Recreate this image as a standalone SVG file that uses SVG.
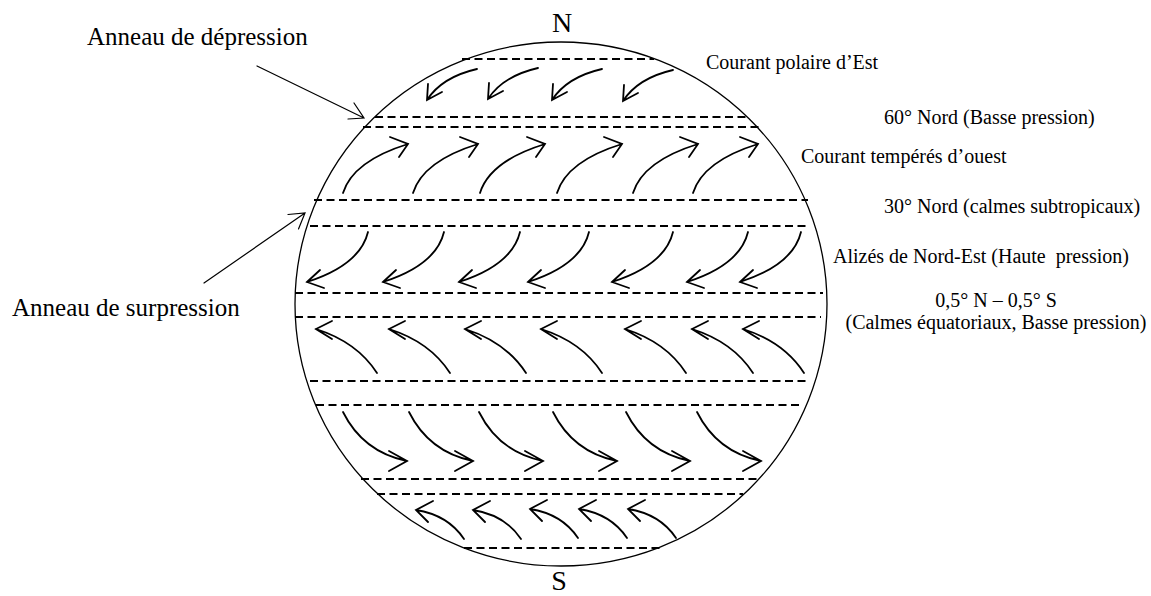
<svg xmlns="http://www.w3.org/2000/svg" xmlns:xlink="http://www.w3.org/1999/xlink" width="1151" height="596" viewBox="0 0 1151 596">
<style>
text{font-family:"Liberation Serif","Times New Roman",serif;fill:#000}
.lbl{font-size:20px}
.big{font-size:25px}
.pole{font-size:28px}
.dash{stroke:#000;stroke-width:1.8;stroke-dasharray:8 4.5;fill:none}
.arr{stroke:#000;stroke-width:1.8;fill:none;stroke-linecap:round;stroke-linejoin:miter}
.thin{stroke:#000;stroke-width:1.2;fill:none;stroke-linecap:round}
</style>
<defs>
<path id="b1" class="arr" d="M0 0 Q-35 8 -50 31 M-49 15 L-50 31 L-35 23"/>
<path id="b2" class="arr" d="M0 0 Q10 -32 65 -49 M47 -56 L65 -49 L56 -36"/>
<path id="b3" class="arr" d="M0 0 Q-8 33 -61 50 M-48 38 L-61 50 L-44 56"/>
<path id="b4" class="arr" d="M0 0 Q-20 -31 -61 -44 M-45 -52 L-61 -44 L-45 -34"/>
<path id="b5" class="arr" d="M0 0 Q20 40 64 49 M46 39 L64 49 L46 59"/>
<path id="b6" class="arr" d="M0 0 Q-16 -24 -48 -29 M-31 -38 L-48 -29 L-36 -17"/>
</defs>
<rect width="1151" height="596" fill="#fff"/>
<g id="globe">
<ellipse cx="561" cy="304" rx="266" ry="262" fill="none" stroke="#000" stroke-width="1.3"/>
</g>
<g id="bands">
<line class="dash" x1="462" y1="59" x2="654" y2="59"/>
<line class="dash" x1="375" y1="117" x2="747" y2="117"/>
<line class="dash" x1="363" y1="127" x2="760" y2="127"/>
<line class="dash" x1="314" y1="200" x2="808" y2="200"/>
<line class="dash" x1="310" y1="226" x2="810" y2="226"/>
<line class="dash" x1="295" y1="293" x2="823" y2="293"/>
<line class="dash" x1="295" y1="317" x2="821" y2="317"/>
<line class="dash" x1="310" y1="381" x2="808" y2="381"/>
<line class="dash" x1="316" y1="405" x2="803" y2="405"/>
<line class="dash" x1="361" y1="479" x2="759" y2="479"/>
<line class="dash" x1="377" y1="494" x2="743" y2="494"/>
<line class="dash" x1="464" y1="548" x2="660" y2="548"/>
</g>
<g id="connectors">
<use xlink:href="#b1" x="477" y="69"/>
<use xlink:href="#b1" x="538" y="68"/>
<use xlink:href="#b1" x="602" y="69"/>
<use xlink:href="#b1" x="673" y="70"/>
<use xlink:href="#b2" x="343" y="193"/>
<use xlink:href="#b2" x="413" y="193"/>
<use xlink:href="#b2" x="480" y="193"/>
<use xlink:href="#b2" x="557" y="193"/>
<use xlink:href="#b2" x="633" y="193"/>
<use xlink:href="#b2" x="693" y="193"/>
<use xlink:href="#b3" x="368" y="232"/>
<use xlink:href="#b3" x="444" y="232"/>
<use xlink:href="#b3" x="520" y="232"/>
<use xlink:href="#b3" x="589" y="232"/>
<use xlink:href="#b3" x="673" y="232"/>
<use xlink:href="#b3" x="748" y="232"/>
<use xlink:href="#b3" x="801" y="232"/>
<use xlink:href="#b4" x="377" y="373"/>
<use xlink:href="#b4" x="450" y="373"/>
<use xlink:href="#b4" x="526" y="373"/>
<use xlink:href="#b4" x="602" y="373"/>
<use xlink:href="#b4" x="686" y="373"/>
<use xlink:href="#b4" x="753" y="373"/>
<use xlink:href="#b4" x="804" y="373"/>
<use xlink:href="#b5" x="343" y="412"/>
<use xlink:href="#b5" x="409" y="412"/>
<use xlink:href="#b5" x="479" y="412"/>
<use xlink:href="#b5" x="553" y="412"/>
<use xlink:href="#b5" x="626" y="412"/>
<use xlink:href="#b5" x="697" y="412"/>
<use xlink:href="#b6" x="464" y="539"/>
<use xlink:href="#b6" x="521" y="539"/>
<use xlink:href="#b6" x="578" y="538"/>
<use xlink:href="#b6" x="627" y="538"/>
<use xlink:href="#b6" x="676" y="538"/>
<path class="thin" d="M257 66 L364 118 M354 103 L364 118 L348 119"/>
<path class="thin" d="M204 283 L305 213 M288 214.5 L305 213 L298.5 229"/>
</g>
<g id="label-N"><text class="pole" x="562" y="32" text-anchor="middle">N</text></g>
<g id="label-S"><text class="pole" x="559" y="590" text-anchor="middle">S</text></g>
<g id="label-depression"><text class="big" x="87" y="45">Anneau de dépression</text></g>
<g id="label-surpression"><text class="big" x="12" y="316">Anneau de surpression</text></g>
<g id="label-polaire"><text class="lbl" x="706" y="69">Courant polaire d’Est</text></g>
<g id="label-60"><text class="lbl" x="884" y="124">60° Nord (Basse pression)</text></g>
<g id="label-temperes"><text class="lbl" x="801" y="163">Courant tempérés d’ouest</text></g>
<g id="label-30"><text class="lbl" x="884" y="213">30° Nord (calmes subtropicaux)</text></g>
<g id="label-alizes"><text class="lbl" x="833" y="263" xml:space="preserve">Alizés de Nord-Est (Haute  pression)</text></g>
<g id="label-equateur"><text class="lbl" x="996" y="307" text-anchor="middle">0,5° N – 0,5° S</text><text class="lbl" x="996" y="329" text-anchor="middle">(Calmes équatoriaux, Basse pression)</text></g>
</svg>
